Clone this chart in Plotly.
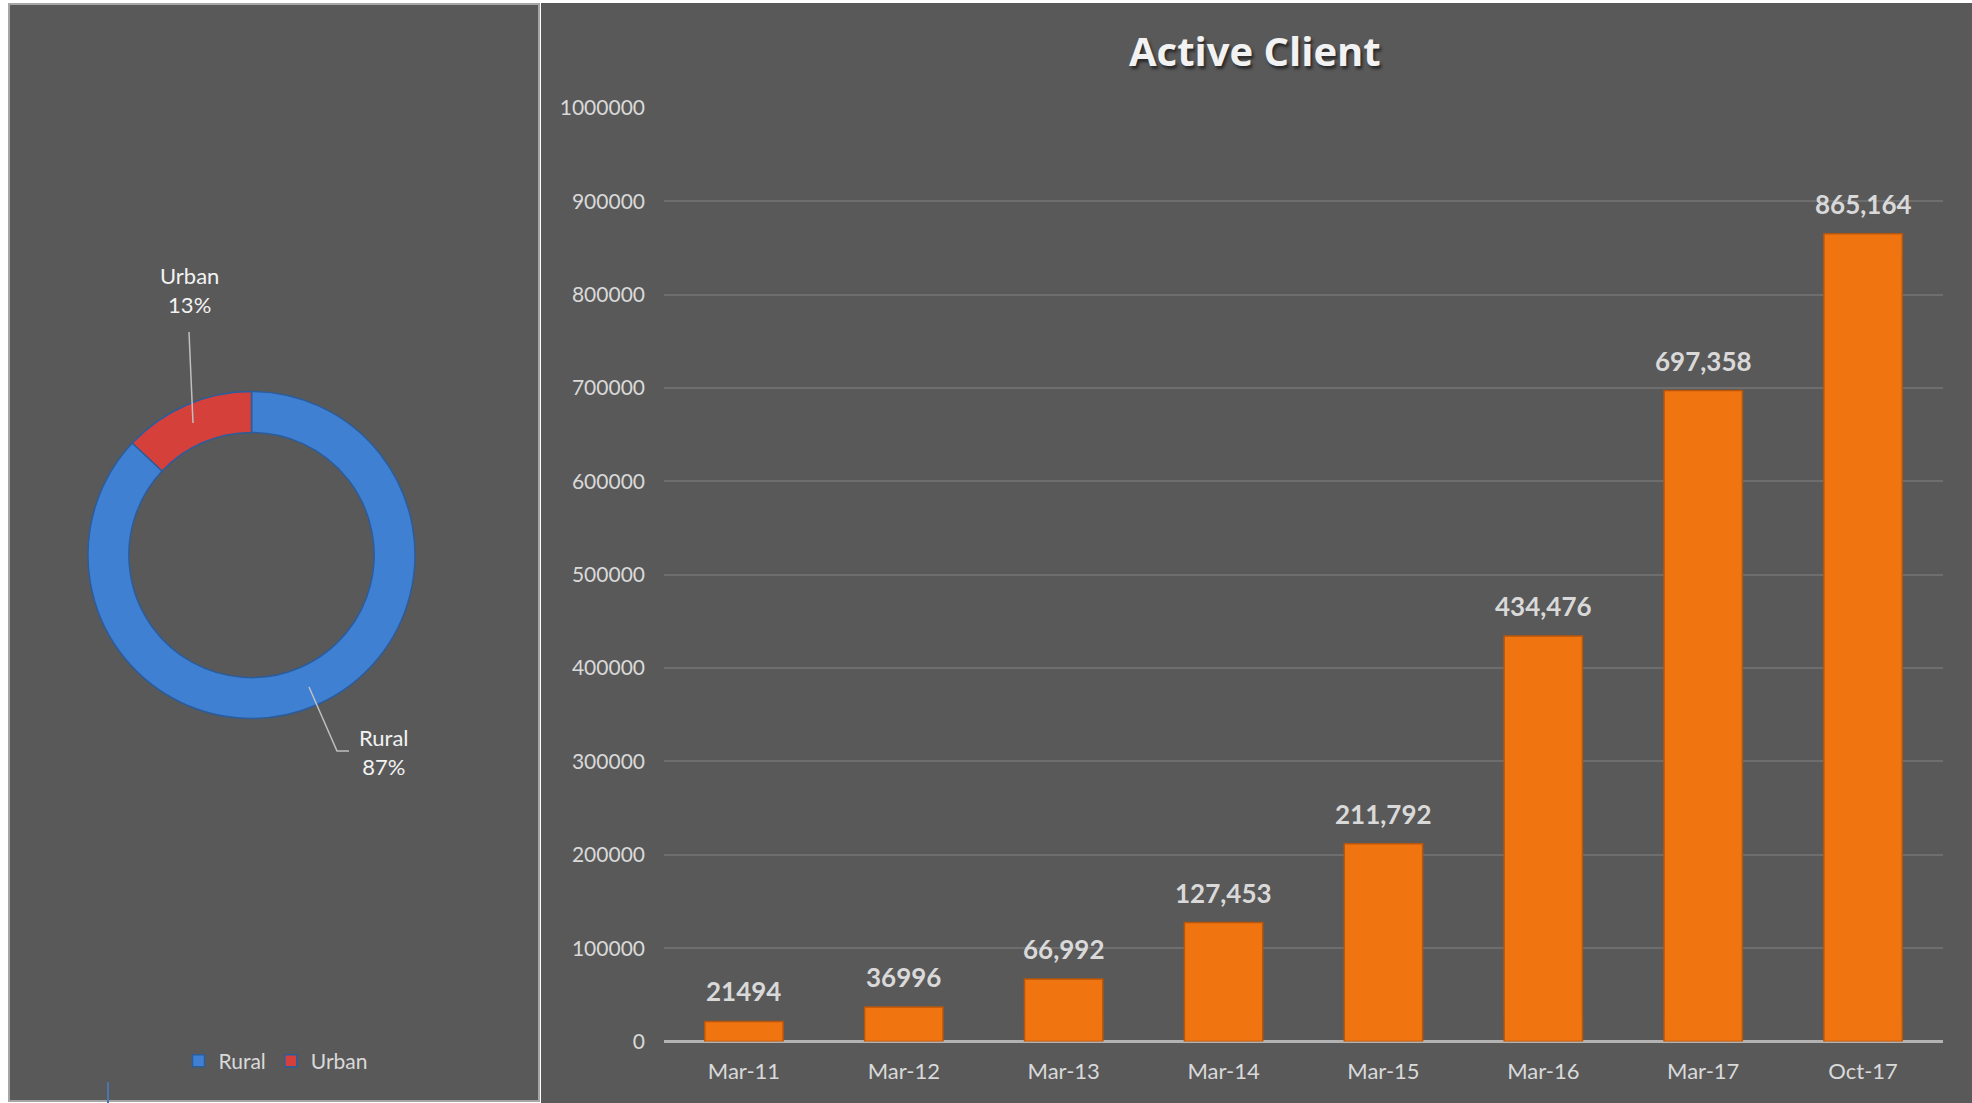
import plotly.graph_objects as go

# ---- data ----
periods = ["Mar-11", "Mar-12", "Mar-13", "Mar-14", "Mar-15", "Mar-16", "Mar-17", "Oct-17"]
active_clients = [21494, 36996, 66992, 127453, 211792, 434476, 697358, 865164]
label_with_commas = [False, False, True, True, True, True, True, True]

area_names = ["Rural", "Urban"]
area_share = [87, 13]

y_ticks = [0, 100000, 200000, 300000, 400000, 500000, 600000, 700000, 800000, 900000, 1000000]

# ---- page geometry (pixels) ----
W, H = 1972, 1103


def px(x):
    return x / W


def py(y):
    return 1 - y / H


BG = "#595959"
TEXT = "#d9d9d9"
FONT = "Lato, 'Open Sans', sans-serif"
TITLE_FONT = "'Open Sans', Lato, sans-serif"

fig = go.Figure()

# Donut: Rural / Urban split
fig.add_trace(go.Pie(
    labels=area_names,
    values=area_share,
    hole=0.75,
    sort=False,
    direction="clockwise",
    rotation=0,
    textinfo="none",
    marker=dict(colors=["#3f80d2", "#d6403b"],
                line=dict(color="#2b5c9c", width=1.5)),
    domain=dict(x=[px(88), px(415)], y=[py(718.5), py(391.5)]),
    showlegend=True,
    hoverinfo="label+percent",
))

# Bars: active clients by period
fig.add_trace(go.Bar(
    x=periods,
    y=active_clients,
    width=0.49,
    marker=dict(color="#f07511", line=dict(color="#b8560c", width=1.5)),
    showlegend=False,
    xaxis="x",
    yaxis="y",
))

annotations = []
for p, v, c in zip(periods, active_clients, label_with_commas):
    annotations.append(dict(
        x=p, y=v, xref="x", yref="y",
        text=f"<b>{v:,}</b>" if c else f"<b>{v}</b>",
        showarrow=False, yanchor="bottom", yshift=12,
        font=dict(family=FONT, size=26, color=TEXT),
    ))

# Donut labels with leader lines
pct = {n: s for n, s in zip(area_names, area_share)}
annotations.append(dict(
    x=px(189), y=py(290), xref="paper", yref="paper",
    text=f"Urban<br>{pct['Urban']}%", showarrow=False,
    font=dict(family=FONT, size=22, color="#f2f2f2"),
    xanchor="center", yanchor="middle",
))
annotations.append(dict(
    x=px(384), y=py(752), xref="paper", yref="paper",
    text=f"Rural<br>{pct['Rural']}%", showarrow=False,
    font=dict(family=FONT, size=22, color="#f2f2f2"),
    xanchor="center", yanchor="middle",
))

# Title
annotations.append(dict(
    x=px(1255), y=py(50), xref="paper", yref="paper",
    text="<b>Active Client</b>", showarrow=False,
    xanchor="center", yanchor="middle",
    font=dict(family=TITLE_FONT, size=40, color="#f2f2f2",
              shadow="2px 3px 3px rgba(0,0,0,0.55)"),
))

shapes = [
    # left panel
    dict(type="rect", xref="paper", yref="paper", layer="below",
         x0=px(9), x1=px(539), y0=py(1101), y1=py(4),
         fillcolor=BG, line=dict(color="#a6a6a6", width=2)),
    # right panel
    dict(type="rect", xref="paper", yref="paper", layer="below",
         x0=px(541), x1=px(1972), y0=py(1103), y1=py(3),
         fillcolor=BG, line=dict(width=0)),
    # leader lines
    dict(type="line", xref="paper", yref="paper",
         x0=px(189), y0=py(332), x1=px(193), y1=py(423),
         line=dict(color="#bfbfbf", width=1.5)),
    dict(type="path", xref="paper", yref="paper",
         path=f"M {px(309)},{py(687)} L {px(337)},{py(751)} L {px(349)},{py(751)}",
         line=dict(color="#bfbfbf", width=1.5)),
    # small stray tick at the bottom left
    dict(type="line", xref="paper", yref="paper",
         x0=px(108), y0=py(1082), x1=px(108), y1=py(1103),
         line=dict(color="#4a76b0", width=2)),
]

fig.update_layout(
    width=W, height=H,
    margin=dict(l=0, r=0, t=0, b=0, autoexpand=False),
    paper_bgcolor="white",
    plot_bgcolor="rgba(0,0,0,0)",
    font=dict(family=FONT, color=TEXT),
    xaxis=dict(
        domain=[px(664), px(1943)],
        showgrid=False, zeroline=False,
        showline=False,
        ticks="", ticklabelstandoff=14,
        tickfont=dict(family=FONT, size=22, color=TEXT),
        fixedrange=True,
    ),
    yaxis=dict(
        domain=[py(1041.5), py(108)],
        range=[0, 1000000],
        tickvals=y_ticks,
        tickformat="d",
        showgrid=True, gridcolor="#6e6e6e", gridwidth=1.5,
        zeroline=True, zerolinecolor="#b3b3b3", zerolinewidth=2.5,
        showline=False,
        ticks="", ticklabelstandoff=18,
        tickfont=dict(family=FONT, size=21, color=TEXT),
        fixedrange=True,
    ),
    bargap=0.51,
    legend=dict(
        orientation="h",
        x=px(276), xanchor="center",
        y=py(1061), yanchor="middle",
        font=dict(family=FONT, size=21, color=TEXT),
        bgcolor="rgba(0,0,0,0)",
        itemwidth=30,
        tracegroupgap=0,
    ),
    annotations=annotations,
    shapes=shapes,
)

fig.write_html("out.html")
